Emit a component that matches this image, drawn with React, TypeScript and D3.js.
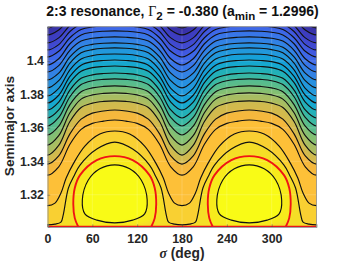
import React, { useEffect, useRef } from "react";
import * as d3 from "d3";

const width = 349;
const height = 264;
const marginTop = 26.7;
const marginRight = 32.5;
const marginBottom = 37;
const marginLeft = 47.5;

const xTicks = [0, 60, 120, 180, 240, 300];
const yTicks = [1.32, 1.34, 1.36, 1.38, 1.4];

// sigma readings for the upper contours, 0 to 90 deg, the picture repeats by mirroring
const sigmaGrid = [0, 15, 30, 45, 60, 75, 90];

const lowContours = [
  [[0, 1.302], [10, 1.3024], [18, 1.3036], [21, 1.3078], [28, 1.324], [36, 1.3317], [43.5, 1.3377], [66, 1.3473], [90, 1.3515]],
  [[0, 1.3135], [10, 1.315], [18, 1.321], [25, 1.33], [35, 1.3389], [50, 1.3491], [70, 1.3563], [90, 1.3581]],
];

const upperContours = [
  [1.3317, 1.3367, 1.3502, 1.3591, 1.3627, 1.364, 1.3647],
  [1.3383, 1.3432, 1.3564, 1.3652, 1.3688, 1.3701, 1.3707],
  [1.3437, 1.3495, 1.3638, 1.3722, 1.3748, 1.3758, 1.3761],
  [1.3497, 1.3553, 1.369, 1.3772, 1.3797, 1.3806, 1.3809],
  [1.3557, 1.361, 1.3739, 1.3816, 1.3839, 1.3848, 1.3851],
  [1.3611, 1.3662, 1.3786, 1.3859, 1.3882, 1.389, 1.3893],
  [1.3659, 1.3707, 1.3826, 1.3896, 1.3917, 1.3925, 1.3928],
  [1.3707, 1.3754, 1.387, 1.3938, 1.396, 1.3967, 1.397],
  [1.3749, 1.3795, 1.3908, 1.3975, 1.3996, 1.4003, 1.4006],
  [1.3791, 1.3836, 1.3947, 1.4012, 1.4032, 1.404, 1.4042],
  [1.3839, 1.3882, 1.3987, 1.4049, 1.4068, 1.4076, 1.4078],
  [1.3887, 1.3927, 1.4024, 1.4082, 1.4099, 1.4106, 1.4108],
  [1.3934, 1.3972, 1.4064, 1.4119, 1.4136, 1.4142, 1.4144],
  [1.3976, 1.4013, 1.4103, 1.4156, 1.4172, 1.4178, 1.418],
  [1.4024, 1.4058, 1.4139, 1.4188, 1.4203, 1.4208, 1.421],
  [1.4066, 1.4098, 1.4176, 1.4222, 1.4236, 1.4241, 1.4243],
  [1.4108, 1.4138, 1.4212, 1.4256, 1.4269, 1.4274, 1.4276],
  [1.4156, 1.4185, 1.4255, 1.4296, 1.4309, 1.4313, 1.4315],
  [1.4198, 1.4226, 1.4295, 1.4335, 1.4348, 1.4352, 1.4354],
];

// colour of the band under each contour, bottom contour first
const bandColors = [
  "#f5de28", "#f9d030", "#fdc038", "#f5b83e", "#d2ba4e", "#a8bd62", "#84c072",
  "#58bc8c", "#38b8a4", "#22b0b8", "#14a8d0", "#18a0d8", "#2098dc", "#2890e0",
  "#3082e4", "#3876e8", "#3c68e8", "#4058e0", "#4048d0", "#3c3cc0", "#3830a8",
];
const topColor = "#352a90";
const lobeColor = "#f7ea1c";
const coreColor = "#f9fb12";

// separatrix and the inner closed contour, left half of the lobe
const separatrix = [[41, 1.301], [36.5, 1.306], [34.5, 1.3144], [36.5, 1.324], [43.5, 1.3317], [66, 1.3407], [90, 1.3431]];
const innerLoop = [[90, 1.3379], [70, 1.3355], [54.6, 1.3288], [46.6, 1.3168], [50, 1.3086], [66, 1.3048], [90, 1.3032]];
const lobeCentres = [90, 270];
const separatrixFloor = 1.301;

function unfold(half: number[][]) {
  // mirror 0..90 out past both edges so the line leaves the frame smoothly
  const pts: number[][] = [];
  for (let k = -1; k <= 4; k++) {
    const forward = ((k % 2) + 2) % 2 === 0;
    (forward ? half : [...half].reverse()).forEach(([s, a]) => {
      const sig = forward ? k * 90 + s : (k + 1) * 90 - s;
      if (!pts.length || pts[pts.length - 1][0] !== sig) pts.push([sig, a]);
    });
  }
  return pts;
}

export default function App() {
  const ref = useRef<SVGSVGElement>(null);

  useEffect(() => {
    const svg = d3.select(ref.current);
    svg.selectAll("*").remove();

    const x = d3.scaleLinear().domain([0, 360]).range([marginLeft, width - marginRight]);
    const y = d3.scaleLinear().domain([1.3007, 1.4205]).range([height - marginBottom, marginTop]);
    const [x0, x1] = x.range();
    const [yB, yT] = y.range();

    const contours = [
      ...lowContours,
      ...upperContours.map(row => row.map((a, i) => [sigmaGrid[i], a])),
    ].map(unfold);

    const line = d3.line<number[]>().x(d => x(d[0])).y(d => y(d[1])).curve(d3.curveCatmullRom.alpha(0.5));
    const area = d3.area<number[]>().x(d => x(d[0])).y0(yB + 20).y1(d => y(d[1])).curve(d3.curveCatmullRom.alpha(0.5));
    const loop = d3.line<number[]>().x(d => x(d[0])).y(d => y(d[1])).curve(d3.curveCatmullRomClosed.alpha(0.5));

    const lobe = (half: number[][], centre: number) => [
      ...half.map(([s, a]) => [s - 90 + centre, a]),
      ...[...half].reverse().slice(1, -1).map(([s, a]) => [centre + 90 - s, a]),
    ];

    const defs = svg.append("defs");
    defs.append("clipPath").attr("id", "plot").append("rect")
      .attr("x", x0).attr("y", yT).attr("width", x1 - x0).attr("height", yB - yT);
    const blur = defs.append("filter").attr("id", "soft")
      .attr("filterUnits", "userSpaceOnUse").attr("x", 0).attr("y", 0).attr("width", width).attr("height", height);
    blur.append("feGaussianBlur").attr("stdDeviation", 1.6);

    const plot = svg.append("g").attr("clip-path", "url(#plot)");
    const bands = plot.append("g").attr("filter", "url(#soft)");

    bands.append("rect").attr("x", x0 - 20).attr("y", yT - 20)
      .attr("width", x1 - x0 + 40).attr("height", yB - yT + 40).attr("fill", topColor);

    // paint from the top down, each band covers everything below its contour
    d3.range(contours.length - 1, -1, -1).forEach(i => {
      bands.append("path").attr("d", area(contours[i])).attr("fill", bandColors[i]);
    });
    lobeCentres.forEach(c => {
      bands.append("path").attr("d", loop(lobe(separatrix, c))).attr("fill", lobeColor);
      bands.append("path").attr("d", loop(lobe(innerLoop, c))).attr("fill", coreColor);
    });

    // faint grid
    const grid = plot.append("g").attr("stroke", "#fff").attr("stroke-opacity", 0.22).attr("stroke-width", 0.8);
    xTicks.slice(1).forEach(t => grid.append("line").attr("x1", x(t)).attr("x2", x(t)).attr("y1", yT).attr("y2", yB));
    yTicks.forEach(t => grid.append("line").attr("x1", x0).attr("x2", x1).attr("y1", y(t)).attr("y2", y(t)));

    plot.selectAll(".contour").data(contours).join("path")
      .attr("class", "contour").attr("d", d => line(d))
      .attr("fill", "none").attr("stroke", "#111").attr("stroke-width", 1.15);

    lobeCentres.forEach(c => {
      plot.append("path").attr("d", loop(lobe(innerLoop, c)))
        .attr("fill", "none").attr("stroke", "#111").attr("stroke-width", 1.15);
      plot.append("path").attr("d", line(lobe(separatrix, c).concat([[c + 90 - separatrix[0][0], separatrix[0][1]]])))
        .attr("fill", "none").attr("stroke", "#f01414").attr("stroke-width", 1.9);
    });
    plot.append("line").attr("x1", x0).attr("x2", x1).attr("y1", y(separatrixFloor)).attr("y2", y(separatrixFloor))
      .attr("stroke", "#e8141c").attr("stroke-width", 1.5);

    // axes
    const font = "'Liberation Sans', Arial, sans-serif";
    const xAxis = svg.append("g").attr("transform", `translate(0,${yB})`)
      .call(d3.axisBottom(x).tickValues(xTicks).tickFormat(d3.format("d")).tickSize(-2.7).tickPadding(7));
    const yAxis = svg.append("g").attr("transform", `translate(${x0},0)`)
      .call(d3.axisLeft(y).tickValues(yTicks).tickFormat(d => String(+d)).tickSize(-2.7).tickPadding(3.5));
    [xAxis, yAxis].forEach(g => {
      g.select(".domain").attr("stroke", "#8a8a8a").attr("stroke-width", 0.8);
      g.selectAll(".tick line").attr("stroke", "#444").attr("stroke-opacity", 0.45);
      g.selectAll("text").attr("font-family", font).attr("font-weight", "bold").attr("font-size", 12.4).attr("fill", "#262626");
    });
    svg.append("path").attr("d", `M${x0},${yT}H${x1}V${yB}`).attr("fill", "none")
      .attr("stroke", "#8a8a8a").attr("stroke-width", 0.8);

    // labels
    svg.append("text")
      .attr("transform", `translate(14,126) rotate(-90)`)
      .attr("text-anchor", "middle")
      .attr("font-family", font).attr("font-weight", "bold").attr("font-size", 13.7).attr("fill", "#262626")
      .text("Semimajor axis");

    const xLabel = svg.append("text").attr("x", 182).attr("y", 258).attr("text-anchor", "middle")
      .attr("font-family", font).attr("font-weight", "bold").attr("font-size", 13.8).attr("fill", "#262626");
    xLabel.append("tspan").attr("font-family", "'Liberation Serif', serif").attr("font-style", "italic").text("σ");
    xLabel.append("tspan").text(" (deg)");

    const title = svg.append("text").attr("x", 182.5).attr("y", 15.7).attr("text-anchor", "middle")
      .attr("font-family", font).attr("font-weight", "bold").attr("font-size", 14).attr("fill", "#111");
    title.append("tspan").text("2:3 resonance, ");
    title.append("tspan").attr("font-family", "'Liberation Serif', serif").attr("font-weight", "normal").text("Γ");
    title.append("tspan").attr("dy", 4).attr("font-size", 11.5).text("2");
    title.append("tspan").attr("dy", -4).text(" = -0.380 (a");
    title.append("tspan").attr("dy", 4).attr("font-size", 11.5).text("min");
    title.append("tspan").attr("dy", -4).text(" = 1.2996)");
  }, []);

  return (
    <svg
      ref={ref}
      width={width}
      height={height}
      viewBox={`0 0 ${width} ${height}`}
      style={{ position: "absolute", left: 0, top: 0, background: "#fff" }}
    ></svg>
  );
}
